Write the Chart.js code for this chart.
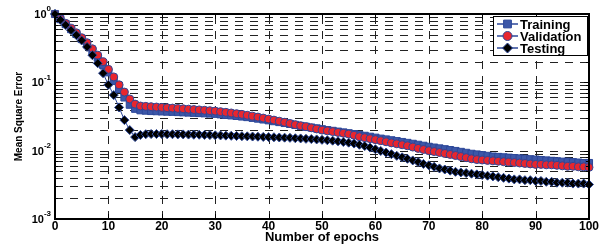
<!DOCTYPE html>
<html>
<head>
<meta charset="utf-8">
<script src="https://cdn.jsdelivr.net/npm/chart.js@4/dist/chart.umd.min.js"></script>
<style>
  body { margin: 0; background: #fff; }
</style>
</head>
<body>
<canvas id="mseChart" width="602" height="245"></canvas>
<script>
// epochs 0..100
const epochs = [0, 1, 2, 3, 4, 5, 6, 7, 8, 9, 10, 11, 12, 13, 14, 15, 16, 17, 18, 19, 20,
  21, 22, 23, 24, 25, 26, 27, 28, 29, 30, 31, 32, 33, 34, 35, 36, 37, 38, 39, 40,
  41, 42, 43, 44, 45, 46, 47, 48, 49, 50, 51, 52, 53, 54, 55, 56, 57, 58, 59, 60,
  61, 62, 63, 64, 65, 66, 67, 68, 69, 70, 71, 72, 73, 74, 75, 76, 77, 78, 79, 80,
  81, 82, 83, 84, 85, 86, 87, 88, 89, 90, 91, 92, 93, 94, 95, 96, 97, 98, 99, 100];

const trainingMse = [1.0, 0.84, 0.71, 0.60, 0.51, 0.43, 0.36, 0.29, 0.23, 0.18,
  0.14, 0.105, 0.08, 0.06, 0.047, 0.041, 0.039, 0.0385, 0.038, 0.0378,
  0.0375, 0.0372, 0.037, 0.0367, 0.0364, 0.0361, 0.0358, 0.0355, 0.0352, 0.0349,
  0.0346, 0.034, 0.0334, 0.0328, 0.0322, 0.0316, 0.031, 0.0302, 0.0294, 0.0286,
  0.0278, 0.027, 0.0262, 0.0254, 0.0246, 0.0238, 0.023, 0.0224, 0.0218, 0.0212,
  0.0206, 0.020, 0.0195, 0.019, 0.0185, 0.018, 0.0175, 0.017, 0.0165, 0.016,
  0.0155, 0.015, 0.0146, 0.0142, 0.0138, 0.0134, 0.013, 0.0126, 0.0122, 0.0118,
  0.0114, 0.0111, 0.0108, 0.0105, 0.0102, 0.0099, 0.0096, 0.0093, 0.009, 0.0088,
  0.0086, 0.0084, 0.0082, 0.0081, 0.008, 0.0079, 0.0078, 0.0077, 0.0076, 0.0075,
  0.0074, 0.0073, 0.0072, 0.0071, 0.007, 0.0069, 0.0069, 0.0068, 0.0067, 0.0066,
  0.0066];

const validationMse = [1.0, 0.85, 0.73, 0.62, 0.53, 0.45, 0.38, 0.31, 0.25, 0.20,
  0.155, 0.12, 0.092, 0.072, 0.057, 0.048, 0.045, 0.0445, 0.044, 0.0435,
  0.043, 0.0425, 0.042, 0.0415, 0.041, 0.0405, 0.040, 0.0395, 0.039, 0.0385,
  0.038, 0.0372, 0.0364, 0.0356, 0.0348, 0.034, 0.033, 0.032, 0.031, 0.030,
  0.029, 0.028, 0.027, 0.026, 0.025, 0.024, 0.0232, 0.0224, 0.0216, 0.0208,
  0.020, 0.0195, 0.019, 0.0185, 0.018, 0.0175, 0.0168, 0.016, 0.0155, 0.015,
  0.0145, 0.014, 0.0135, 0.013, 0.0126, 0.0122, 0.0118, 0.0113, 0.0108, 0.0104,
  0.0100, 0.0097, 0.0094, 0.0091, 0.0088, 0.0085, 0.0082, 0.0079, 0.0076, 0.0074,
  0.0073, 0.0072, 0.0071, 0.0070, 0.0069, 0.0068, 0.0067, 0.0066, 0.0065, 0.0064,
  0.0063, 0.0063, 0.0062, 0.0062, 0.0061, 0.0060, 0.0059, 0.0059, 0.0058, 0.0058,
  0.0057];

const testingMse = [1.0, 0.82, 0.69, 0.58, 0.49, 0.41, 0.33, 0.25, 0.19, 0.136,
  0.092, 0.065, 0.043, 0.028, 0.020, 0.0158, 0.0170, 0.0174, 0.0175, 0.0175,
  0.0175, 0.0174, 0.0174, 0.0173, 0.0173, 0.0172, 0.0171, 0.0171, 0.0170, 0.0169,
  0.0168, 0.0167, 0.0166, 0.0165, 0.0164, 0.0163, 0.0162, 0.0161, 0.0160, 0.0159,
  0.0158, 0.0157, 0.0156, 0.0155, 0.0154, 0.0152, 0.0151, 0.0149, 0.0148, 0.0146,
  0.0144, 0.0142, 0.0140, 0.0137, 0.0134, 0.0131, 0.0127, 0.0122, 0.0117, 0.0111,
  0.0105, 0.0099, 0.0094, 0.0089, 0.0084, 0.0080, 0.0076, 0.0072, 0.0068, 0.0064,
  0.0061, 0.0058, 0.0055, 0.0053, 0.0051, 0.0049, 0.0048, 0.0047, 0.0046, 0.0045,
  0.0044, 0.0043, 0.0042, 0.0041, 0.0040, 0.0039, 0.0038, 0.0038, 0.0037, 0.0037,
  0.0036, 0.0036, 0.0035, 0.0035, 0.0034, 0.0034, 0.0034, 0.0033, 0.0033, 0.0033,
  0.0032];

const xTickValues = [0, 10, 20, 30, 40, 50, 60, 70, 80, 90, 100];
const yDecades = [1, 0.1, 0.01, 0.001];
const yDecadeExponents = ['0', '-1', '-2', '-3'];
const yGridValues = [0.002, 0.003, 0.004, 0.005, 0.006, 0.007, 0.008, 0.009, 0.01,
  0.02, 0.03, 0.04, 0.05, 0.06, 0.07, 0.08, 0.09, 0.1,
  0.2, 0.3, 0.4, 0.5, 0.6, 0.7, 0.8, 0.9];

const BLUE_EDGE = '#2c4799';
const FONT = '"Liberation Sans", Arial, sans-serif';

// matlab-ish axes: dashed grid, box, ticks, superscript labels, inset legend
const matlabAxes = {
  id: 'matlabAxes',
  beforeDatasetsDraw(chart) {
    const { ctx, chartArea: a, scales: { x, y } } = chart;
    ctx.save();
    ctx.strokeStyle = '#222';
    ctx.lineWidth = 1;
    ctx.setLineDash([8, 7]);
    yGridValues.forEach(v => {
      const py = Math.round(y.getPixelForValue(v)) + 0.5;
      ctx.beginPath();
      ctx.moveTo(a.left, py);
      ctx.lineTo(a.right, py);
      ctx.stroke();
    });
    xTickValues.slice(1, -1).forEach(v => {
      const px = Math.round(x.getPixelForValue(v)) + 0.5;
      ctx.beginPath();
      ctx.moveTo(px, a.bottom);
      ctx.lineTo(px, a.top);
      ctx.stroke();
    });
    ctx.restore();
  },
  afterDatasetsDraw(chart) {
    const { ctx, chartArea: a, scales: { x, y } } = chart;
    ctx.save();

    // little inside ticks
    ctx.strokeStyle = '#000';
    ctx.lineWidth = 1;
    ctx.beginPath();
    yGridValues.forEach(v => {
      const py = Math.round(y.getPixelForValue(v)) + 0.5;
      ctx.moveTo(a.left, py); ctx.lineTo(a.left + 3, py);
      ctx.moveTo(a.right, py); ctx.lineTo(a.right - 3, py);
    });
    yDecades.forEach(v => {
      const py = Math.round(y.getPixelForValue(v)) + 0.5;
      ctx.moveTo(a.left, py); ctx.lineTo(a.left + 5, py);
      ctx.moveTo(a.right, py); ctx.lineTo(a.right - 5, py);
    });
    xTickValues.forEach(v => {
      const px = Math.round(x.getPixelForValue(v)) + 0.5;
      ctx.moveTo(px, a.bottom); ctx.lineTo(px, a.bottom - 5);
      ctx.moveTo(px, a.top); ctx.lineTo(px, a.top + 5);
    });
    ctx.stroke();

    // box
    ctx.lineWidth = 2;
    ctx.strokeRect(a.left, a.top, a.right - a.left, a.bottom - a.top);

    // y labels 10^n
    ctx.fillStyle = '#000';
    ctx.textBaseline = 'middle';
    yDecades.forEach((v, i) => {
      const py = y.getPixelForValue(v);
      ctx.font = 'bold 8px ' + FONT;
      ctx.textAlign = 'left';
      const ew = ctx.measureText(yDecadeExponents[i]).width;
      const right = a.left - 4;
      ctx.fillText(yDecadeExponents[i], right - ew, py - 5);
      ctx.font = 'bold 11px ' + FONT;
      ctx.textAlign = 'right';
      ctx.fillText('10', right - ew, py + 1);
    });

    // axis titles
    ctx.font = 'bold 13px ' + FONT;
    ctx.textAlign = 'center';
    ctx.fillText('Number of epochs', (a.left + a.right) / 2, 237);
    ctx.save();
    ctx.translate(19, (a.top + a.bottom) / 2);
    ctx.rotate(-Math.PI / 2);
    ctx.font = 'bold 10px ' + FONT;
    ctx.fillText('Mean Square Error', 0, 0);
    ctx.restore();

    // legend
    const lx = a.right - 96, ly = a.top + 2, lw = 94, lh = 39;
    ctx.fillStyle = '#fff';
    ctx.fillRect(lx, ly, lw, lh);
    ctx.lineWidth = 1;
    ctx.strokeStyle = '#000';
    ctx.strokeRect(lx + 0.5, ly + 0.5, lw, lh);
    chart.data.datasets.forEach((ds, i) => {
      const ry = ly + 8 + i * 12;
      ctx.strokeStyle = ds.borderColor;
      ctx.lineWidth = 1.5;
      ctx.beginPath();
      ctx.moveTo(lx + 4, ry);
      ctx.lineTo(lx + 25, ry);
      ctx.stroke();
      ctx.fillStyle = ds.pointBackgroundColor;
      ctx.strokeStyle = ds.pointBorderColor;
      ctx.lineWidth = 1;
      Chart.helpers.drawPoint(ctx, {
        pointStyle: ds.pointStyle, radius: ds.pointRadius + 0.5, rotation: 0, borderWidth: 1
      }, lx + 14.5, ry);
      ctx.fillStyle = '#000';
      ctx.font = 'bold 13px ' + FONT;
      ctx.textAlign = 'left';
      ctx.textBaseline = 'middle';
      ctx.fillText(ds.label, lx + 27, ry + 1);
    });

    ctx.restore();
  }
};

const ctx = document.getElementById('mseChart').getContext('2d');
const mseChart = new Chart(ctx, {
  type: 'line',
  data: {
    labels: epochs,
    datasets: [
      {
        label: 'Training',
        data: trainingMse,
        borderColor: BLUE_EDGE,
        borderWidth: 1,
        pointStyle: 'rect',
        pointRadius: 5,
        pointBackgroundColor: '#3c57a8',
        pointBorderColor: BLUE_EDGE,
        pointBorderWidth: 1,
        clip: false,
        order: 2
      },
      {
        label: 'Validation',
        data: validationMse,
        borderColor: BLUE_EDGE,
        borderWidth: 1,
        pointStyle: 'circle',
        pointRadius: 4,
        pointBackgroundColor: '#e8262e',
        pointBorderColor: BLUE_EDGE,
        pointBorderWidth: 1,
        clip: false,
        order: 1
      },
      {
        label: 'Testing',
        data: testingMse,
        borderColor: BLUE_EDGE,
        borderWidth: 1,
        pointStyle: 'rectRot',
        pointRadius: 4.5,
        pointBackgroundColor: '#000000',
        pointBorderColor: BLUE_EDGE,
        pointBorderWidth: 1,
        clip: false,
        order: 0
      }
    ]
  },
  options: {
    responsive: false,
    animation: false,
    layout: { padding: { top: 14, right: 13, left: 0, bottom: 0 } },
    plugins: {
      legend: { display: false },
      tooltip: { enabled: false }
    },
    scales: {
      x: {
        type: 'linear',
        min: 0,
        max: 100,
        grid: { display: false },
        border: { display: false },
        ticks: {
          stepSize: 10,
          padding: -8,
          color: '#000',
          font: { family: FONT, size: 12, weight: 'bold' },
          maxRotation: 0
        },
        afterFit(scale) { scale.height = 26; }
      },
      y: {
        type: 'logarithmic',
        min: 0.001,
        max: 1,
        grid: { display: false },
        border: { display: false },
        ticks: { display: false },
        afterFit(scale) { scale.width = 55; }
      }
    }
  },
  plugins: [matlabAxes]
});
</script>
</body>
</html>
